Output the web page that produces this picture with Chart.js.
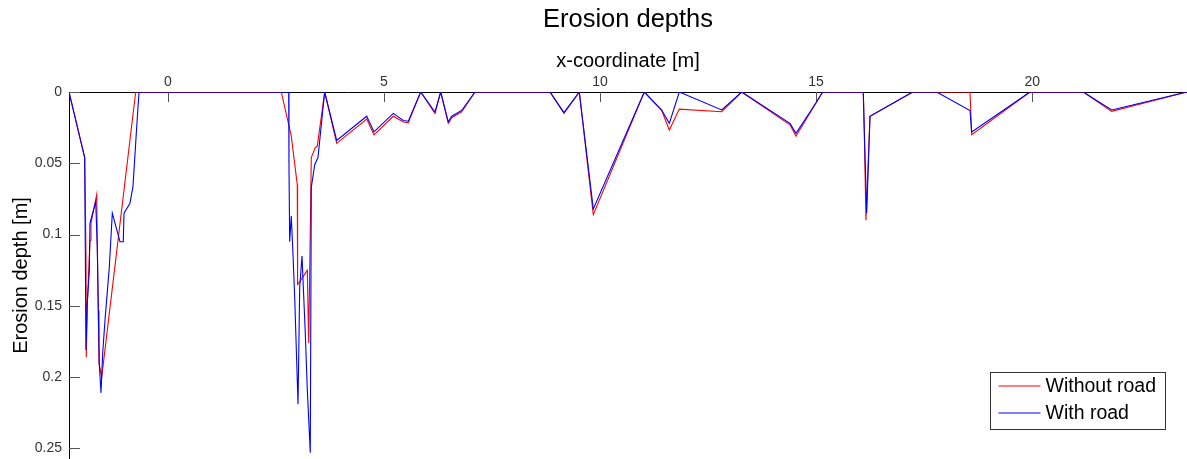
<!DOCTYPE html>
<html>
<head>
<meta charset="utf-8">
<title>Erosion depths</title>
<script src="https://cdn.jsdelivr.net/npm/chart.js@4/dist/chart.umd.min.js"></script>
<style>
  html, body { margin: 0; padding: 0; background: #ffffff; }
  #wrap { width: 1187px; height: 459px; }
</style>
</head>
<body>
<div id="wrap"><canvas id="chart" width="1187" height="459"></canvas></div>
<script>
// Erosion depth profile along the slope, with and without the road
const xWithoutRoad = [
  -2.286, -1.923, -1.893, -1.886, -1.863, -1.800, -1.777, -1.645, -1.631, -1.608, -1.592, -1.529, -0.743,
  2.626, 2.857, 2.996, 3.003, 3.029, 3.228, 3.260, 3.320, 3.413, 3.459, 3.630,
  3.908, 4.602, 4.771, 5.218, 5.449, 5.565, 5.851, 6.182, 6.314, 6.490, 6.569, 6.800, 7.108,
  8.843, 9.167, 9.521, 9.845, 11.025, 11.428, 11.604, 11.835, 12.816, 13.279,
  14.396, 14.535, 15.014, 15.153, 16.092, 16.115, 16.154, 16.247, 17.235,
  18.561, 18.600, 19.949, 21.182, 21.840, 23.582
];
const depthWithoutRoad = [
  0, 0.046, 0.115, 0.186, 0.149, 0.104, 0.092, 0.072, 0.109, 0.153, 0.190, 0.200, 0,
  0, 0.031, 0.065, 0.135, 0.134, 0.125, 0.176, 0.046, 0.039, 0.038, 0,
  0.036, 0.019, 0.030, 0.017, 0.021, 0.0215, 0, 0.015, 0, 0.022, 0.018, 0.014, 0,
  0, 0.015, 0, 0.086, 0, 0.013, 0.0267, 0.012, 0.0138, 0,
  0.023, 0.031, 0.0068, 0, 0, 0.027, 0.090, 0.017, 0,
  0, 0.030, 0, 0, 0.0136, 0
];

const xWithRoad = [
  -2.286, -1.923, -1.893, -1.863, -1.817, -1.800, -1.668, -1.631, -1.608, -1.585, -1.546,
  -1.506, -1.453, -1.354, -1.284, -1.106, -1.030, -1.013, -0.875, -0.805, -0.729, -0.666,
  2.797, 2.804, 2.820, 2.857, 2.897, 2.936, 3.013, 3.052, 3.105, 3.181, 3.228, 3.297,
  3.320, 3.399, 3.475, 3.630,
  3.908, 4.602, 4.771, 5.218, 5.449, 5.565, 5.851, 6.182, 6.314, 6.490, 6.569, 6.800, 7.108,
  8.843, 9.167, 9.521, 9.845, 11.025, 11.428, 11.604, 11.835, 12.816, 13.279,
  14.396, 14.535, 15.014, 15.153, 16.092, 16.115, 16.171, 16.247, 17.235,
  17.790, 18.561, 18.600, 19.949, 21.182, 21.840, 23.582
];
const depthWithRoad = [
  0, 0.046, 0.181, 0.148, 0.126, 0.092, 0.077, 0.109, 0.153, 0.191, 0.211,
  0.183, 0.160, 0.123, 0.085, 0.105, 0.105, 0.085, 0.078, 0.066, 0.029, 0,
  0, 0.052, 0.105, 0.087, 0.114, 0.144, 0.219, 0.137, 0.115, 0.169, 0.209, 0.253,
  0.067, 0.051, 0.046, 0,
  0.034, 0.017, 0.028, 0.015, 0.020, 0.0205, 0, 0.014, 0, 0.021, 0.017, 0.013, 0,
  0, 0.0145, 0, 0.082, 0, 0.0126, 0.022, 0, 0.0126, 0,
  0.022, 0.029, 0.0068, 0, 0, 0.027, 0.085, 0.017, 0,
  0, 0.013, 0.028, 0, 0, 0.0126, 0
];

const xTickValues = [0, 5, 10, 15, 20];
const yTickValues = [0, 0.05, 0.1, 0.15, 0.2, 0.25];
const seriesNames = ['Without road', 'With road'];

const FONT = '"Liberation Sans", Arial, Helvetica, sans-serif';

function toPoints(xs, ys) {
  return xs.map((x, i) => ({ x: x, y: ys[i] }));
}

// Short tick marks pointing into the plot area
const innerTicks = {
  id: 'innerTicks',
  beforeDatasetsDraw(chart) {
    const { ctx, chartArea, scales } = chart;
    ctx.save();
    ctx.strokeStyle = '#555555';
    ctx.lineWidth = 1;
    ctx.beginPath();
    xTickValues.forEach(v => {
      const px = Math.round(scales.x.getPixelForValue(v)) + 0.5;
      ctx.moveTo(px, chartArea.top);
      ctx.lineTo(px, chartArea.top + 10);
    });
    yTickValues.forEach(v => {
      const py = Math.round(scales.y.getPixelForValue(v)) + 0.5;
      ctx.moveTo(chartArea.left, py);
      ctx.lineTo(chartArea.left + 11, py);
    });
    ctx.stroke();
    ctx.restore();
  }
};

// Boxed legend in the lower right of the plot
const boxLegend = {
  id: 'boxLegend',
  afterDraw(chart) {
    const { ctx, chartArea } = chart;
    const w = 175, h = 57;
    const x0 = chartArea.right - 196.5, y0 = 372.5;
    ctx.save();
    ctx.fillStyle = '#ffffff';
    ctx.fillRect(x0, y0, w, h);
    ctx.strokeStyle = '#333333';
    ctx.lineWidth = 1;
    ctx.strokeRect(x0, y0, w, h);
    ctx.font = '19.5px ' + FONT;
    ctx.textBaseline = 'middle';
    ctx.textAlign = 'left';
    chart.data.datasets.forEach((ds, i) => {
      const ly = y0 + 13.5 + i * 27;
      ctx.strokeStyle = ds.borderColor;
      ctx.lineWidth = 1.2;
      ctx.beginPath();
      ctx.moveTo(x0 + 8, ly);
      ctx.lineTo(x0 + 50, ly);
      ctx.stroke();
      ctx.fillStyle = '#000000';
      ctx.fillText(ds.label, x0 + 55, ly + 1);
    });
    ctx.restore();
  }
};

new Chart(document.getElementById('chart'), {
  type: 'line',
  data: {
    datasets: [
      {
        label: seriesNames[0],
        data: toPoints(xWithoutRoad, depthWithoutRoad),
        borderColor: '#ff0000',
        borderWidth: 1.1,
        pointRadius: 0,
        tension: 0,
        order: 1
      },
      {
        label: seriesNames[1],
        data: toPoints(xWithRoad, depthWithRoad),
        borderColor: '#0000ff',
        borderWidth: 1.1,
        pointRadius: 0,
        tension: 0,
        order: 0
      }
    ]
  },
  options: {
    responsive: false,
    animation: false,
    devicePixelRatio: 1,
    layout: { padding: 0 },
    plugins: {
      legend: { display: false },
      tooltip: { enabled: false },
      title: {
        display: true,
        fullSize: false,
        text: 'Erosion depths',
        color: '#000000',
        font: { family: FONT, size: 25.5, weight: 'normal', lineHeight: 1.2 },
        padding: { top: 5, bottom: 0 }
      }
    },
    scales: {
      x: {
        type: 'linear',
        position: 'top',
        min: -2.286,
        max: 23.582,
        afterBuildTicks(scale) { scale.ticks = xTickValues.map(v => ({ value: v })); },
        afterFit(scale) {
          scale.height = 56.4;
          scale.paddingLeft = 0; scale.paddingRight = 0;
          scale.paddingTop = 0; scale.paddingBottom = 0;
        },
        grid: { display: false, drawTicks: false },
        border: { display: true, color: '#000000', width: 1 },
        ticks: {
          color: '#333333',
          font: { family: FONT, size: 14 },
          padding: 1,
          maxRotation: 0,
          autoSkip: false,
          callback: v => String(v)
        },
        title: {
          display: true,
          text: 'x-coordinate [m]',
          color: '#000000',
          font: { family: FONT, size: 20, lineHeight: 1.2 },
          padding: { top: 14, bottom: 0 }
        }
      },
      y: {
        type: 'linear',
        position: 'left',
        reverse: true,
        min: 0,
        max: 0.2574,
        afterBuildTicks(scale) { scale.ticks = yTickValues.map(v => ({ value: v })); },
        afterFit(scale) {
          scale.width = 69;
          scale.paddingTop = 0; scale.paddingBottom = 0;
          scale.paddingLeft = 0; scale.paddingRight = 0;
        },
        grid: { display: false, drawTicks: false },
        border: { display: true, color: '#000000', width: 1 },
        ticks: {
          color: '#333333',
          font: { family: FONT, size: 14 },
          padding: 7,
          autoSkip: false,
          callback: v => String(v)
        },
        title: {
          display: true,
          text: 'Erosion depth [m]',
          color: '#000000',
          font: { family: FONT, size: 20, lineHeight: 1.2 },
          padding: { top: 9, bottom: 0 }
        }
      }
    }
  },
  plugins: [innerTicks, boxLegend]
});
</script>
</body>
</html>
